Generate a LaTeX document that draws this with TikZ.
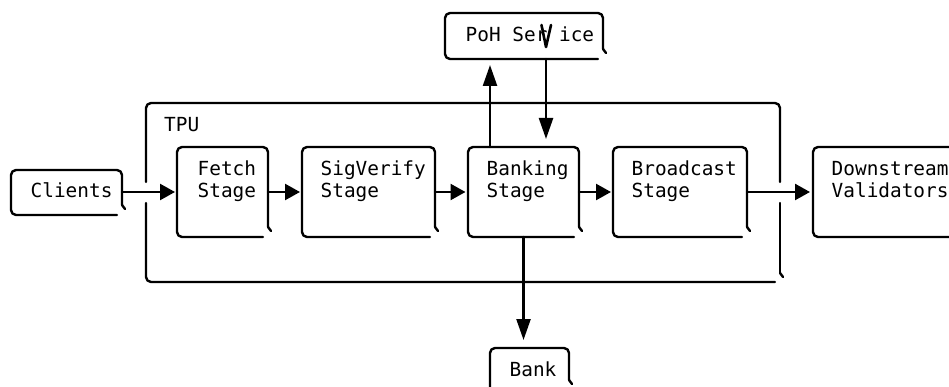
\documentclass[tikz,border=0pt]{standalone}
\usepackage{fontspec}
\newfontfamily\bobmono{DejaVu Sans Mono}
\usetikzlibrary{arrows.meta}

% Outline of a box whose lower right corner is left open, with a small tick
\newcommand\bobframe[1]{%
  \draw[frame] ([xshift=-5pt]#1.south east) -- (#1.south west) -- (#1.north west)
    -- (#1.north east) -- ([yshift=10pt]#1.south east);
  \draw[stroke] ([yshift=10pt]#1.south east) -- ([xshift=3pt,yshift=6pt]#1.south east);}

\begin{document}
\begin{tikzpicture}[x=1pt,y=-1pt,
  stroke/.style={line width=2.4pt, line cap=round, line join=round},
  frame/.style={stroke, rounded corners=5pt},
  harrow/.style={stroke, -{Triangle[length=15pt,width=16pt]}},
  varrow/.style={stroke, -{Triangle[length=21pt,width=14pt]}},
  slot/.style={draw=none, inner sep=0pt, outer sep=0pt, rectangle},
  label/.style={font=\bobmono\fontsize{19.4}{22}\selectfont, inner sep=0pt,
    anchor=base west, align=left}]

\useasboundingbox (0,0) rectangle (949,387);
\clip (0,0) rectangle (949,387);
\fill[white] (0,0) rectangle (949,387);

% box outlines (invisible nodes carry the geometry)
\node[slot, minimum width=111pt, minimum height=45pt] (clients) at (66.5,192.5) {};
\node[slot, minimum width=634pt, minimum height=179pt] (tpu) at (463,192.5) {};
\node[slot, minimum width=91pt, minimum height=90pt] (fetch) at (222.5,192) {};
\node[slot, minimum width=133pt, minimum height=90pt] (sigverify) at (368.5,192) {};
\node[slot, minimum width=111pt, minimum height=90pt] (banking) at (523.5,192) {};
\node[slot, minimum width=134pt, minimum height=90pt] (broadcast) at (680,192) {};
\node[slot, minimum width=160pt, minimum height=90pt] (downstream) at (893,192) {};
\node[slot, minimum width=158pt, minimum height=46pt] (poh) at (524,36) {};
\node[slot, minimum width=79pt, minimum height=60pt] (bank) at (529.5,378) {};

% texts (two-line labels are placed by the baseline of their last line)
\node[label] (clientsText) at (30.5,198) {Clients};
\node[label] (tpuText) at (164,132) {TPU};
\node[label] (fetchText) at (197.5,198) {Fetch\\Stage};
\node[label] (sigText) at (320.5,198) {SigVerify\\Stage};
\node[label] (bankingText) at (486.5,198) {Banking\\Stage};
\node[label] (broadcastText) at (631.5,198) {Broadcast\\Stage};
\node[label] (downText) at (831.5,198) {Downstream\\Validators};
\node[label] (pohText) at (465.5,42) {PoH Ser\phantom{v}ice};
\node[label] (bankText) at (509.5,376) {Bank};

% boxes
\bobframe{clients}
\bobframe{fetch}
\bobframe{sigverify}
\bobframe{banking}
\bobframe{broadcast}
\bobframe{poh}
\draw[frame] (downstream.south east) -- (downstream.south west)
  -- (downstream.north west) -- (downstream.north east);
\draw[frame] (bank.south west) -- (bank.north west) -- (bank.north east)
  -- ([yshift=-32pt]bank.north east);
\draw[stroke] ([yshift=-32pt]bank.north east) -- ([xshift=3pt,yshift=-36pt]bank.north east);

% TPU frame, broken where the data path crosses it
\draw[frame] ([yshift=10.5pt]tpu.west) -- (tpu.north west) -- (tpu.north east)
  -- ([yshift=10.5pt]tpu.east);
\draw[frame] ([yshift=-10.5pt]tpu.east) -- ([yshift=9pt]tpu.south east);
\draw[stroke] ([yshift=9pt]tpu.south east) -- ([xshift=3pt,yshift=5pt]tpu.south east);
\draw[frame] ([xshift=-5pt]tpu.south east) -- (tpu.south west) -- ([yshift=-10.5pt]tpu.west);

% the v of "Service", drawn as a stroke
\draw[stroke, line width=2.6pt] (541.5,25) -- (546,47) -- (551,25);

% data path
\draw[harrow, shorten >=2pt] (clients.east |- fetch.west) -- (fetch.west);
\draw[harrow, shorten >=2pt] (fetch.east) -- (sigverify.west);
\draw[harrow, shorten >=2.5pt] (sigverify.east) -- (banking.west);
\draw[harrow, shorten >=2pt] (banking.east) -- (broadcast.west);
\draw[harrow, shorten >=3pt] (broadcast.east) -- (downstream.west);

% PoH and bank links
\draw[varrow, shorten >=6pt] ([xshift=22pt]banking.north west)
  -- ([xshift=22pt]banking.north west |- poh.south);
\draw[varrow, shorten >=8pt] ([xshift=22pt]poh.south) -- ([xshift=22pt]poh.south |- banking.north);
\draw[varrow, shorten >=8pt] (banking.south) -- (banking.south |- bank.north);
\end{tikzpicture}
\end{document}
